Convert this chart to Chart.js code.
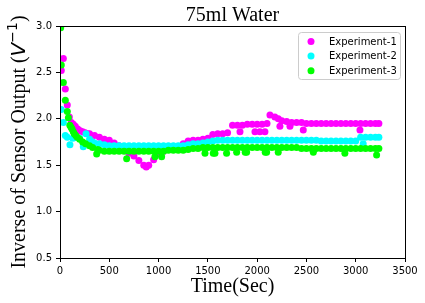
<!DOCTYPE html>
<html>
<head>
<meta charset="utf-8">
<script src="https://cdn.jsdelivr.net/npm/chart.js@4.4.0/dist/chart.umd.min.js"></script>
<style>
  html, body { margin: 0; padding: 0; background: #fff; }
  canvas { display: block; }
</style>
</head>
<body>
<canvas id="chart" width="425" height="303"></canvas>
<script>
// Data
const titleText = '75ml Water';
const xLabel = 'Time(Sec)';
const seriesNames = ['Experiment-1', 'Experiment-2', 'Experiment-3'];
const seriesColors = ['#ff00ff', '#00ffff', '#00ff00'];

const xTicks = [0, 500, 1000, 1500, 2000, 2500, 3000, 3500];
const yTicks = [0.5, 1.0, 1.5, 2.0, 2.5, 3.0];
const yTickLabels = ['0.5', '1.0', '1.5', '2.0', '2.5', '3.0'];

// Experiment-1
const time1 = [13, 34, 54, 74, 95, 115, 135, 155, 180, 205,
  230, 255, 280, 300, 350, 400, 450, 500, 550, 600,
  650, 700, 750, 800, 850, 875, 900, 950, 1000, 1050,
  1100, 1150, 1200, 1250, 1300, 1350, 1400, 1450, 1500, 1550,
  1600, 1650, 1700, 1750, 1800, 1826, 1850, 1900, 1950, 1978,
  2000, 2028, 2050, 2079, 2100, 2130, 2180, 2231, 2250, 2300,
  2333, 2350, 2400, 2450, 2468, 2500, 2550, 2600, 2650, 2700,
  2750, 2800, 2850, 2900, 2950, 3000, 3043, 3050, 3100, 3150,
  3200, 3235, 2215];
const value1 = [2.52, 2.65, 2.32, 2.15, 2.02, 1.96, 1.94, 1.92, 1.89, 1.87,
  1.86, 1.85, 1.84, 1.84, 1.82, 1.80, 1.78, 1.77, 1.74, 1.71,
  1.68, 1.63, 1.60, 1.55, 1.50, 1.48, 1.50, 1.56, 1.62, 1.65,
  1.67, 1.68, 1.70, 1.73, 1.76, 1.77, 1.77, 1.78, 1.79, 1.83,
  1.84, 1.84, 1.85, 1.93, 1.93, 1.86, 1.93, 1.94, 1.94, 1.86,
  1.94, 1.86, 1.94, 1.86, 1.95, 2.04, 2.02, 1.92, 1.98, 1.97,
  1.92, 1.96, 1.96, 1.96, 1.88, 1.95, 1.95, 1.95, 1.95, 1.95,
  1.95, 1.95, 1.95, 1.95, 1.95, 1.95, 1.88, 1.95, 1.95, 1.95,
  1.95, 1.95, 2.00];

// Experiment-2
const time2 = [13, 34, 54, 74, 101, 130, 162, 200, 236, 264, 300, 331, 350, 400, 450, 500, 550, 600, 650, 700,
  750, 800, 850, 900, 950, 1000, 1050, 1100, 1150, 1200, 1250, 1300, 1350, 1400, 1450, 1500, 1550, 1600, 1650, 1700,
  1750, 1800, 1850, 1900, 1950, 2000, 2050, 2100, 2150, 2200, 2250, 2300, 2350, 2400, 2450, 2500, 2550, 2600, 2650, 2700,
  2750, 2800, 2850, 2900, 2950, 3000, 3050, 3076, 3100, 3150, 3200, 3235];
const value2 = [2.10, 1.96, 1.82, 1.80, 1.72, 1.79, 1.80, 1.79, 1.70, 1.84, 1.78, 1.75, 1.74, 1.73, 1.72, 1.71, 1.71, 1.71, 1.71, 1.71,
  1.71, 1.71, 1.71, 1.71, 1.71, 1.71, 1.71, 1.71, 1.71, 1.71, 1.71, 1.72, 1.73, 1.73, 1.74, 1.75, 1.76, 1.77, 1.77, 1.77,
  1.77, 1.77, 1.77, 1.77, 1.77, 1.77, 1.77, 1.77, 1.77, 1.77, 1.77, 1.77, 1.77, 1.77, 1.77, 1.77, 1.77, 1.77, 1.76, 1.76,
  1.76, 1.76, 1.76, 1.76, 1.76, 1.76, 1.80, 1.73, 1.80, 1.80, 1.80, 1.80];

// Experiment-3
const time3 = [7, 13, 34, 54, 74, 85, 100, 112, 122, 135, 145, 160, 175, 200, 230, 260, 300, 331, 372, 382,
  400, 450, 500, 550, 600, 650, 676, 700, 750, 800, 850, 900, 950, 963, 1000, 1031, 1050, 1100, 1150, 1200,
  1250, 1300, 1350, 1400, 1450, 1471, 1500, 1550, 1555, 1572, 1600, 1650, 1690, 1700, 1750, 1792, 1800, 1850, 1879, 1893,
  1900, 1950, 2000, 2050, 2082, 2096, 2100, 2150, 2200, 2214, 2250, 2300, 2350, 2400, 2450, 2500, 2550, 2570, 2600, 2650,
  2700, 2750, 2800, 2850, 2890, 2900, 2950, 3000, 3050, 3100, 3150, 3200, 3212, 3235];
const value3 = [2.98, 2.58, 2.39, 2.20, 2.08, 2.01, 1.93, 1.91, 1.89, 1.86, 1.84, 1.82, 1.80, 1.78, 1.75, 1.73, 1.71, 1.69, 1.62, 1.67,
  1.66, 1.65, 1.65, 1.65, 1.65, 1.65, 1.57, 1.65, 1.65, 1.65, 1.65, 1.65, 1.65, 1.59, 1.65, 1.59, 1.65, 1.66, 1.66, 1.66,
  1.66, 1.67, 1.68, 1.68, 1.69, 1.63, 1.69, 1.69, 1.63, 1.63, 1.69, 1.69, 1.63, 1.69, 1.69, 1.64, 1.69, 1.69, 1.64, 1.64,
  1.69, 1.69, 1.69, 1.69, 1.64, 1.64, 1.69, 1.69, 1.69, 1.64, 1.69, 1.69, 1.69, 1.69, 1.68, 1.68, 1.68, 1.64, 1.68, 1.68,
  1.68, 1.68, 1.68, 1.68, 1.63, 1.68, 1.68, 1.68, 1.68, 1.68, 1.68, 1.68, 1.61, 1.68];

function pairs(ts, vs) {
  return ts.map((t, i) => ({ x: t, y: vs[i] }));
}

const serif = '"Liberation Serif", "Times New Roman", serif';
const sans = '"DejaVu Sans", sans-serif';

// title, axis labels, frame and legend drawn on top of the plot
const decorations = {
  id: 'decorations',
  afterDraw(chart) {
    const ctx = chart.ctx;
    const a = chart.chartArea;
    ctx.save();

    ctx.strokeStyle = '#000';
    ctx.lineWidth = 1;
    ctx.strokeRect(a.left + 0.5, a.top + 0.5, a.right - a.left, a.bottom - a.top);

    ctx.fillStyle = '#000';
    ctx.textAlign = 'center';
    ctx.textBaseline = 'alphabetic';
    ctx.font = '20px ' + serif;
    ctx.fillText(titleText, (a.left + a.right) / 2, 21);
    ctx.fillText(xLabel, (a.left + a.right) / 2, 292);

    // y label with math part V^{-1}
    const parts = [
      { text: 'Inverse of Sensor Output (', font: '20px ' + serif, rise: 0 },
      { text: 'V', font: 'oblique 20px ' + sans, rise: 0 },
      { text: '\u22121', font: '14px ' + sans, rise: 8 },
      { text: ')', font: '20px ' + serif, rise: 0 }
    ];
    let total = 0;
    parts.forEach(p => { ctx.font = p.font; p.w = ctx.measureText(p.text).width; total += p.w; });
    ctx.translate(25, (a.top + a.bottom) / 2);
    ctx.rotate(-Math.PI / 2);
    ctx.textAlign = 'left';
    let px = -total / 2;
    parts.forEach(p => { ctx.font = p.font; ctx.fillText(p.text, px, -p.rise); px += p.w; });
    ctx.setTransform(1, 0, 0, 1, 0, 0);

    // legend box
    const lx = 298, ly = 32, lw = 102, lh = 47;
    ctx.beginPath();
    ctx.roundRect(lx + 0.5, ly + 0.5, lw, lh, 3);
    ctx.fillStyle = 'rgba(255,255,255,0.8)';
    ctx.fill();
    ctx.strokeStyle = '#cccccc';
    ctx.stroke();
    ctx.font = '10px ' + sans;
    ctx.textBaseline = 'middle';
    seriesNames.forEach((name, i) => {
      const cy = 41.5 + i * 14.6;
      ctx.beginPath();
      ctx.arc(311, cy, 3.5, 0, Math.PI * 2);
      ctx.fillStyle = seriesColors[i];
      ctx.fill();
      ctx.fillStyle = '#000';
      ctx.fillText(name, 329, cy + 0.5);
    });
    ctx.restore();
  }
};

const series = [pairs(time1, value1), pairs(time2, value2), pairs(time3, value3)];

new Chart(document.getElementById('chart'), {
  type: 'scatter',
  data: {
    datasets: series.map((d, i) => ({
      label: seriesNames[i],
      data: d,
      backgroundColor: seriesColors[i],
      borderWidth: 0,
      pointRadius: 3.5,
      clip: 0,
      order: 3 - i
    }))
  },
  options: {
    responsive: false,
    devicePixelRatio: 1,
    animation: false,
    layout: { padding: { top: 26, right: 20, bottom: 0, left: 0 } },
    plugins: {
      legend: { display: false },
      title: { display: false },
      tooltip: { enabled: false }
    },
    scales: {
      x: {
        type: 'linear',
        min: 0,
        max: 3500,
        afterBuildTicks: s => { s.ticks = xTicks.map(v => ({ value: v })); },
        afterFit: s => { s.height = 45; },
        grid: { display: true, drawOnChartArea: false, drawTicks: true, tickLength: 4, color: '#000' },
        border: { display: false },
        ticks: {
          font: { family: 'DejaVu Sans', size: 10 },
          color: '#000',
          padding: 3,
          maxRotation: 0,
          autoSkip: false,
          callback: (v, i) => String(xTicks[i])
        }
      },
      y: {
        type: 'linear',
        min: 0.5,
        max: 3.0,
        afterBuildTicks: s => { s.ticks = yTicks.map(v => ({ value: v })); },
        afterFit: s => { s.width = 60; },
        grid: { display: true, drawOnChartArea: false, drawTicks: true, tickLength: 4, color: '#000' },
        border: { display: false },
        ticks: {
          font: { family: 'DejaVu Sans', size: 10 },
          color: '#000',
          padding: 4,
          autoSkip: false,
          callback: (v, i) => yTickLabels[i]
        }
      }
    }
  },
  plugins: [decorations]
});
</script>
</body>
</html>
